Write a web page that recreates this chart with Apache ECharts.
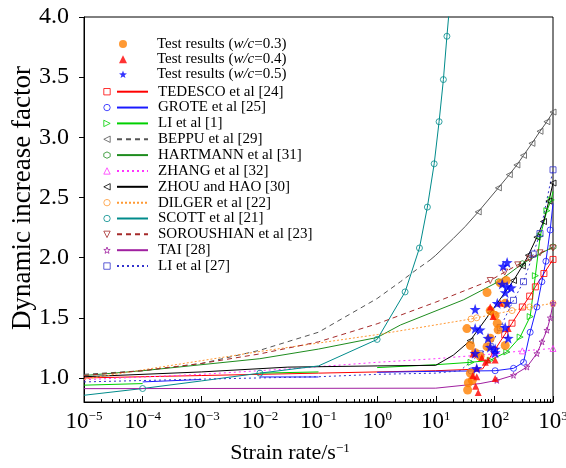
<!DOCTYPE html>
<html>
<head>
<meta charset="utf-8">
<script src="https://cdn.jsdelivr.net/npm/echarts@6/dist/echarts.min.js"></script>
<style>html,body{margin:0;padding:0;background:#fff}#chart{width:566px;height:468px}</style>
</head>
<body>
<div id="chart"></div>
<script>
const FONT = 'Liberation Serif';

// axis ticks
const xDecades = [-5, -4, -3, -2, -1, 0, 1, 2, 3];
const yTicks = [1.0, 1.5, 2.0, 2.5, 3.0, 3.5, 4.0];

// test results: [strain rate, DIF]
const wc03 = [[75,1.71],[126,1.79],[159,1.81],[85,1.56],[103,1.52],[153,1.62],[34,1.41],[39,1.27],[47,1.21],[57,1.18],[75,1.26],[85,1.33],[112,1.455],[116,1.40],[153,1.27],[39,1.04],[42,0.98],[36,0.96],[35,0.90]];
const wc04 = [[85,1.59],[126,1.62],[95,1.51],[172,1.41],[43,1.20],[61,1.17],[70,1.13],[78,1.15],[103,1.15],[50,1.08],[43,1.02],[50,1.01],[103,0.995],[48,0.93],[53,0.88]];
const wc05 = [[165,1.96],[141,1.93],[136,1.78],[165,1.76],[194,1.75],[153,1.71],[47,1.57],[112,1.62],[165,1.62],[47,1.41],[57,1.40],[78,1.33],[85,1.255],[103,1.24],[153,1.42],[172,1.33],[47,1.205],[103,1.21],[50,1.08]];

// model curves: [strain rate, DIF, marker]; a null DIF breaks the line
const TEDESCO = [[1e-5,1.0,0],[1e-3,1.02,0],[1e-1,1.04,0],[10,1.06,0],[63,1.075,0],[100,1.227,1],[150,1.36,1],[200,1.455,1],[300,1.59,1],[400,1.68,1],[500,1.757,1],[700,1.868,1],[1000,1.985,1]];
const GROTE = [[1e-4,0.967,0],[1e-3,0.987,0],[1e-3,null,0],[1e-2,1.008,0],[1e-1,1.008,0],[1e-1,null,0],[1,1.047,0],[10,1.055,0],[40,1.058,1],[103,1.06,1],[212,1.08,1],[314,1.13,1],[408,1.38,1],[531,1.59,1],[646,1.80,1],[757,1.97,1],[895,2.23,1],[1000,2.45,0]];
const LI1 = [[1e-5,0.94,0],[1e-4,0.953,0],[1e-4,null,0],[1e-2,1.04,0],[1e-1,1.05,0],[1e-1,null,0],[1,1.086,0],[10,1.11,0],[40,1.13,1],[85,1.147,1],[163,1.216,1],[275,1.34,1],[408,1.51,1],[500,1.85,1],[605,2.18,1],[787,2.39,1],[933,2.48,1],[1000,2.55,0]];
const BEPPU_LOW = [[1e-5,1.03,0],[1e-4,1.06,0],[1e-3,1.12,0],[1e-2,1.23,0],[1e-1,1.38,0],[1,1.66,0],[2.5,1.80,0],[5,1.91,0],[8,1.98,0]];
const BEPPU_HIGH = [[8,1.98,0],[10,2.02,0],[20,2.16,0],[32,2.26,0],[53,2.38,1],[117,2.58,1],[180,2.69,1],[242,2.77,1],[314,2.85,1],[437,2.95,1],[600,3.05,1],[787,3.13,1],[1000,3.21,1]];
const HARTMANN = [[1e-5,1.02,0],[1e-4,1.06,0],[1e-2,1.16,0],[1e-1,1.24,0],[1,1.336,0],[2.5,1.44,0],[30,1.65,0],[117,1.80,1],[300,1.95,1],[1000,2.09,1]];
const ZHANG = [[1e-5,0.985,0],[1e-3,1.03,0],[0.03,1.075,0],[1,1.13,0],[10,1.16,0],[100,1.2,1],[300,1.225,1],[1000,1.245,1]];
const ZHOU = [[1e-5,1.01,0],[1e-3,1.05,0],[0.03,1.09,0],[1,1.10,0],[10,1.105,0],[20,1.19,0],[38.6,1.31,1],[85,1.54,1],[212,1.81,1],[300,1.93,1],[380,2.02,1],[531,2.17,1],[689,2.30,1],[850,2.47,1],[1000,2.62,1]];
const DILGER = [[1e-5,0.99,0],[1e-2,1.22,0],[1,1.36,0],[40,1.49,1],[50,1.50,1],[100,1.53,1],[200,1.56,1],[400,1.59,1],[1000,1.62,1]];
const SCOTT = [[1e-5,0.856,0],[1e-4,0.912,1],[1e-3,0.975,0],[1e-2,1.04,1],[1e-1,1.10,0],[1,1.32,1],[3,1.715,1],[5.27,2.08,1],[7.2,2.42,1],[9.4,2.78,1],[11.4,3.13,1],[13.5,3.48,1],[15.5,3.84,1],[18,4.2,0]];
const SOROUSHIAN = [[1e-5,1.02,0],[1e-4,1.06,0],[1e-3,1.12,0],[1e-2,1.20,0],[1e-1,1.30,0],[1,1.45,0],[10,1.63,0],[85,1.81,1],[150,1.88,1],[250,1.94,1],[400,1.99,1],[600,2.04,1],[1000,2.08,1]];
const TAI = [[1e-5,0.911,0],[10,0.915,0],[57,0.953,0],[110,0.98,1],[212,1.022,1],[359,1.091,1],[531,1.203,1],[650,1.30,1],[787,1.397,1],[900,1.50,1],[1000,1.62,1]];
const LI27 = [[1e-5,0.967,0],[1e-3,0.99,0],[1e-1,1.01,0],[1,1.03,0],[10,1.04,0],[26,1.06,0],[57,1.2,1],[85,1.26,1],[126,1.42,1],[212,1.645,1],[314,1.80,1],[460,2.03,1],[600,2.2,1],[1000,2.73,1]];

const STAR = 'path://M0,-10 L2.35,-3.24 L9.51,-3.09 L3.8,1.24 L5.88,8.09 L0,4 L-5.88,8.09 L-3.8,1.24 L-9.51,-3.09 L-2.35,-3.24 Z';
const HEX = 'path://M0,-10 L8.66,-5 L8.66,5 L0,10 L-8.66,5 L-8.66,-5 Z';

const curves = [
  {name: 'TEDESCO et al [24]', pts: TEDESCO, color: '#ff0000', symbol: 'rect', rot: 0, dash: 'solid'},
  {name: 'GROTE et al [25]', pts: GROTE, color: '#1a1aff', symbol: 'circle', rot: 0, dash: 'solid'},
  {name: 'LI et al [1]', pts: LI1, color: '#00d000', symbol: 'triangle', rot: -90, dash: 'solid'},
  {name: 'BEPPU et al [29]', pts: BEPPU_LOW, color: '#555555', symbol: 'triangle', rot: 90, dash: [5, 4]},
  {name: 'HARTMANN et al [31]', pts: HARTMANN, color: '#1e8c1e', symbol: HEX, rot: 0, dash: 'solid'},
  {name: 'ZHANG et al [32]', pts: ZHANG, color: '#ff33ff', symbol: 'triangle', rot: 0, dash: [2, 3]},
  {name: 'ZHOU and HAO [30]', pts: ZHOU, color: '#000000', symbol: 'triangle', rot: 90, dash: 'solid'},
  {name: 'DILGER et al [22]', pts: DILGER, color: '#ff9933', symbol: 'circle', rot: 0, dash: [2, 2]},
  {name: 'SCOTT et al [21]', pts: SCOTT, color: '#008b8b', symbol: 'circle', rot: 0, dash: 'solid'},
  {name: 'SOROUSHIAN et al [23]', pts: SOROUSHIAN, color: '#a52a2a', symbol: 'triangle', rot: 180, dash: [5, 4]},
  {name: 'TAI [28]', pts: TAI, color: '#a020a0', symbol: STAR, rot: 0, dash: 'solid'},
  {name: 'LI et al [27]', pts: LI27, color: '#3333cc', symbol: 'rect', rot: 0, dash: [2, 3]}
];
// upper branch of the BEPPU curve, drawn solid (not listed in the legend)
const extraCurves = [
  {name: 'BEPPU et al [29] (upper)', pts: BEPPU_HIGH, color: '#555555', symbol: 'triangle', rot: 90, dash: 'solid'}
];

const tests = [
  {name: 'Test results (w/c=0.3)', pts: wc03, color: '#ff8000', symbol: 'circle', size: 9},
  {name: 'Test results (w/c=0.4)', pts: wc04, color: '#ff0000', symbol: 'triangle', size: 7},
  {name: 'Test results (w/c=0.5)', pts: wc05, color: '#0000ff', symbol: STAR, size: 11}
];

const series = [];
curves.concat(extraCurves).forEach(c => {
  series.push({
    name: c.name, type: 'line', xAxisIndex: 0, yAxisIndex: 0,
    symbol: c.symbol, symbolRotate: c.rot, symbolSize: 6, showAllSymbol: true,
    data: c.pts.map(p => p[1] === null ? [p[0], '-'] : {value: [p[0], p[1]], symbol: p[2] ? c.symbol : 'none'}),
    lineStyle: {color: c.color, width: 1, type: c.dash},
    itemStyle: {color: 'rgba(255,255,255,0)', borderColor: c.color, borderWidth: 0.8},
    clip: true, z: 2, silent: true
  });
});
tests.forEach(t => {
  series.push({
    name: t.name, type: 'scatter', symbol: t.symbol, symbolSize: t.size,
    data: t.pts, itemStyle: {color: t.color}, z: 3, silent: true
  });
});

const minorTicks = [];
for (let e = -5; e < 3; e++) for (let k = 2; k <= 9; k++) minorTicks.push(k * Math.pow(10, e));

const LEG_FS = 15;
const legendText = {fontFamily: FONT, fontSize: LEG_FS, color: '#000', padding: [0, 0, 0, 5],
  rich: {i: {fontFamily: FONT, fontSize: LEG_FS, fontStyle: 'italic', color: '#000'}}};
const hiddenText = {fontFamily: FONT, fontSize: LEG_FS, color: 'rgba(0,0,0,0)'};
const testGap = 0.15, curveGap = 0.85;
const testTop = 36.5, curveTop = 84.2;

const option = {
  animation: false,
  backgroundColor: '#fff',
  grid: {left: 84, top: 17, right: 13, bottom: 66, outerBoundsMode: 'none', containLabel: false,
    show: true, borderColor: '#000', borderWidth: 1, backgroundColor: 'transparent'},
  xAxis: [{
    type: 'log', logBase: 10, min: 1e-5, max: 1e3, position: 'bottom',
    axisLine: {lineStyle: {color: '#000', width: 1}},
    axisTick: {inside: true, length: 6, lineStyle: {color: '#000'}},
    axisLabel: {
      margin: 8, color: '#000', hideOverlap: false,
      formatter: v => {
        const e = Math.round(Math.log10(v));
        return '{b|10}{s|' + (e < 0 ? '\u2212' + (-e) : e) + '}';
      },
      rich: {b: {fontFamily: FONT, fontSize: 23, color: '#000'}, s: {fontFamily: FONT, fontSize: 13, color: '#000', verticalAlign: 'top'}}
    },
    splitLine: {show: false},
    name: 'Strain rate/s{s|\u22121}', nameLocation: 'middle', nameGap: 40, nameMoveOverlap: false,
    nameTextStyle: {fontFamily: FONT, fontSize: 22, color: '#000', padding: [0, 57, 0, 0],
      rich: {s: {fontFamily: FONT, fontSize: 13, color: '#000', verticalAlign: 'top'}}}
  }, {
    type: 'log', logBase: 10, min: 1e-5, max: 1e3, position: 'bottom',
    axisLine: {show: false},
    axisTick: {inside: true, length: 3, customValues: minorTicks, lineStyle: {color: '#000'}},
    axisLabel: {show: false}, splitLine: {show: false}
  }],
  yAxis: [{
    type: 'value', min: 0.8, max: 4.0,
    axisLine: {show: true, lineStyle: {color: '#000', width: 1}},
    axisTick: {show: true, inside: false, length: 5, customValues: yTicks, lineStyle: {color: '#000'}},
    axisLabel: {customValues: yTicks, formatter: v => v.toFixed(1), margin: 15,
      fontFamily: FONT, fontSize: 24, color: '#000'},
    splitLine: {show: false},
    name: 'Dynamic increase factor', nameLocation: 'middle', nameGap: 48, nameMoveOverlap: false,
    nameTextStyle: {fontFamily: FONT, fontSize: 27, color: '#000', padding: [0, 0, 0, 23]}
  }],
  legend: [{
    // test result names
    orient: 'vertical', left: 116, top: testTop, padding: 0, itemWidth: 31, itemHeight: 8, itemGap: testGap,
    selectedMode: false, itemStyle: {opacity: 0}, lineStyle: {opacity: 0},
    textStyle: legendText,
    formatter: n => n.replace('w/c', '{i|w/c}'),
    data: tests.map(t => t.name)
  }, {
    // curve line samples and names
    orient: 'vertical', left: 116, top: curveTop, padding: 0, itemWidth: 31, itemHeight: 8, itemGap: curveGap,
    selectedMode: false, itemStyle: {opacity: 0},
    textStyle: legendText,
    data: curves.map(c => c.name)
  }, {
    // curve markers
    orient: 'vertical', left: 102, top: curveTop, padding: 0, itemWidth: 8, itemHeight: 8, itemGap: curveGap,
    selectedMode: false, lineStyle: {opacity: 0}, itemStyle: {borderWidth: 0.8},
    textStyle: hiddenText, formatter: () => ' ',
    data: curves.map(c => c.name)
  }, {
    // test result markers
    orient: 'vertical', left: 119, top: testTop, padding: 0, itemWidth: 8, itemHeight: 8, itemGap: testGap,
    selectedMode: false,
    textStyle: hiddenText, formatter: () => ' ',
    data: tests.map(t => t.name)
  }],
  series: series
};

echarts.init(document.getElementById('chart'), null, {renderer: 'canvas'}).setOption(option);
</script>
</body>
</html>
